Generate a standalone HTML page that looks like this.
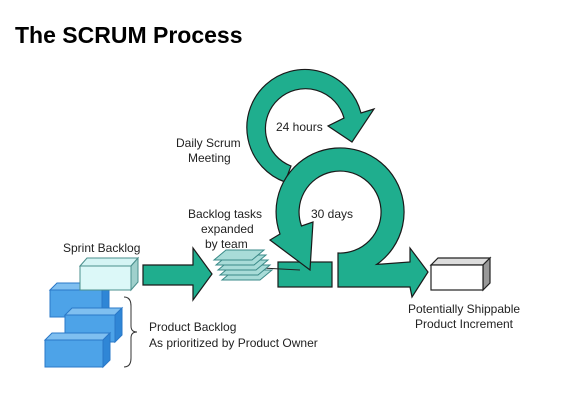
<!DOCTYPE html>
<html><head><meta charset="utf-8"><style>
html,body{margin:0;padding:0;background:#fff;}
body{width:564px;height:415px;overflow:hidden;position:relative;}
.t{position:absolute;left:15px;top:22px;font:bold 23px "Liberation Sans",sans-serif;color:#000;}
svg{position:absolute;left:0;top:0;}
svg text{font-family:"Liberation Sans",sans-serif;font-size:12px;fill:#222;}
</style></head><body>
<div class="t">The SCRUM Process</div>
<svg width="564" height="415" viewBox="0 0 564 415">
<!-- small loop -->
<path d="M285,182 A58,58 0 1 1 361,113 L374,109 L352,142 L328,126 L344,118 A40,40 0 1 0 291,166 Z" fill="#1fae8e" stroke="#1a1a1a" stroke-width="1.2"/>
<!-- left bar -->
<rect x="278" y="262" width="54" height="25" fill="#1fae8e" stroke="#1a1a1a" stroke-width="1.2"/>
<!-- big loop -->
<path d="M338,287 L338,253 A41,41 0 1 0 301.5,226 L313,222 L310,270 L270,240 L280,234 A64,64 0 1 1 376.7,264.4 L410,262 L410,248 L428,272 L412,297 L410,287 Z" fill="#1fae8e" stroke="#1a1a1a" stroke-width="1.2"/>
<line x1="262" y1="268" x2="300" y2="270" stroke="#222" stroke-width="1"/>
<!-- arrow from sprint backlog -->
<path d="M143,265 L193,265 L193,248 L212,274 L193,300 L193,285 L143,285 Z" fill="#1fae8e" stroke="#1a1a1a" stroke-width="1.2"/>
<!-- task plates -->
<g fill="#a8dcd8" stroke="#3a8a88" stroke-width="1">
<path d="M222,280 L260,280 L272,270 L234,270 Z"/>
<path d="M220,275 L258,275 L270,265 L232,265 Z"/>
<path d="M218,270 L256,270 L268,260 L230,260 Z"/>
<path d="M216,265 L254,265 L266,255 L228,255 Z"/>
<path d="M214,260 L252,260 L264,250 L226,250 Z"/>
</g>
<!-- product backlog boxes -->
<g fill="#4da3e8" stroke="#2a78c8" stroke-width="1">
<path d="M50,290 L57,283 L109,283 L102,290 Z" fill="#7fbff0"/>
<path d="M102,290 L109,283 L109,310 L102,317 Z" fill="#2f86d6"/>
<rect x="50" y="290" width="52" height="27"/>
<path d="M65,315 L72,308 L122,308 L115,315 Z" fill="#7fbff0"/>
<path d="M115,315 L122,308 L122,335 L115,342 Z" fill="#2f86d6"/>
<rect x="65" y="315" width="50" height="27"/>
<path d="M45,340 L52,333 L110,333 L103,340 Z" fill="#7fbff0"/>
<path d="M103,340 L110,333 L110,360 L103,367 Z" fill="#2f86d6"/>
<rect x="45" y="340" width="58" height="27"/>
</g>
<!-- sprint backlog box -->
<g stroke="#4a8f8c" stroke-width="1">
<path d="M80,266 L87,258 L138,258 L131,266 Z" fill="#d4f4f4"/>
<path d="M131,266 L138,258 L138,282 L131,290 Z" fill="#9fd0cc"/>
<rect x="80" y="266" width="51" height="24" fill="#dcf8f8"/>
</g>
<!-- output box -->
<g stroke="#222" stroke-width="1.2">
<path d="M431,265 L438,258 L490,258 L483,265 Z" fill="#ddd"/>
<path d="M483,265 L490,258 L490,283 L483,290 Z" fill="#999"/>
<rect x="431" y="265" width="52" height="25" fill="#fff"/>
</g>
<!-- bracket -->
<path d="M124,297 Q131,297 131,306 L131,326 Q131,332 137,332 Q131,332 131,338 L131,358 Q131,367 124,367" fill="none" stroke="#333" stroke-width="1"/>
<text x="63" y="252">Sprint Backlog</text>
<text x="188" y="218">Backlog tasks</text>
<text x="201" y="233">expanded</text>
<text x="205" y="248">by team</text>
<text x="176" y="147">Daily Scrum</text>
<text x="188" y="162">Meeting</text>
<text x="276" y="131">24 hours</text>
<text x="311" y="218">30 days</text>
<text x="149" y="331">Product Backlog</text>
<text x="149" y="347">As prioritized by Product Owner</text>
<text x="464" y="313" text-anchor="middle">Potentially Shippable</text>
<text x="464" y="328" text-anchor="middle">Product Increment</text>
</svg>
</body></html>
